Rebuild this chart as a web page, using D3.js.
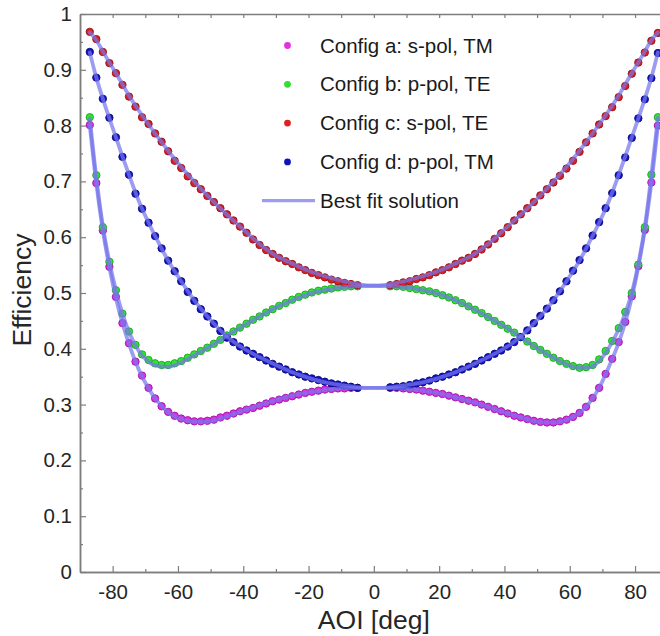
<!DOCTYPE html>
<html>
<head>
<meta charset="utf-8">
<script src="https://cdn.jsdelivr.net/npm/d3@7"></script>
<style>
  html, body { margin: 0; padding: 0; background: #fff; }
  svg { display: block; font-family: "Liberation Sans", Arial, sans-serif; }
</style>
</head>
<body>
<svg id="chart" width="660" height="636"></svg>
<script>
// Measured angles of incidence (deg); the beam block hides -3..3
const aoi = [
  -87,-85,-83,-81,-79,-77,-75,-73,-71,-69,-67,-65,-63,-61,-59,-57,-55,-53,-51,-49,-47,
  -45,-43,-41,-39,-37,-35,-33,-31,-29,-27,-25,-23,-21,-19,-17,-15,-13,-11,-9,-7,-5,
  5,7,9,11,13,15,17,19,21,23,25,27,29,31,33,35,37,39,41,43,45,
  47,49,51,53,55,57,59,61,63,65,67,69,71,73,75,77,79,81,83,85,87
];

// Config a: s-pol, TM
const configA = [
  .801,.697,.612,.547,.493,.446,.410,.377,.352,.330,.311,.297,.287,.280,.275,.272,.270,.270,.271,.273,.277,
  .280,.284,.288,.291,.294,.298,.302,.306,.309,.312,.315,.318,.321,.323,.325,.327,.328,.329,.329,.330,.330,
  .330,.330,.329,.328,.327,.325,.323,.321,.319,.316,.313,.310,.307,.304,.300,.296,.292,.288,.284,.280,.277,
  .274,.271,.269,.268,.268,.270,.273,.278,.285,.296,.312,.330,.355,.382,.412,.448,.494,.548,.613,.698,.800
];

// Config b: p-pol, TE
const configB = [
  .815,.711,.618,.556,.505,.463,.431,.407,.390,.380,.374,.371,.371,.374,.378,.384,.390,.396,.402,.409,.416,
  .424,.431,.438,.445,.452,.458,.465,.471,.477,.482,.488,.493,.497,.501,.504,.506,.508,.510,.511,.512,.512,
  .512,.512,.511,.509,.507,.505,.503,.500,.496,.492,.487,.482,.476,.470,.464,.457,.450,.443,.436,.429,.421,
  .413,.405,.398,.391,.384,.378,.373,.369,.366,.367,.371,.381,.396,.414,.437,.466,.500,.551,.618,.712,.815
];

// Config c: s-pol, TE
const configC = [
  .968,.955,.932,.912,.894,.873,.852,.834,.815,.803,.786,.771,.754,.737,.724,.709,.697,.686,.674,.663,.652,
  .641,.630,.619,.608,.596,.586,.577,.570,.563,.557,.552,.546,.541,.536,.532,.528,.524,.521,.518,.516,.514,
  .514,.516,.519,.521,.525,.528,.532,.537,.541,.546,.552,.558,.563,.570,.578,.587,.597,.607,.618,.630,.641,
  .652,.663,.675,.686,.698,.710,.723,.737,.753,.770,.786,.802,.817,.833,.851,.871,.893,.913,.931,.952,.966
];

// Config d: p-pol, TM
const configD = [
  .932,.886,.848,.814,.779,.744,.712,.678,.651,.626,.602,.580,.558,.539,.521,.502,.486,.471,.458,.445,.432,
  .420,.412,.404,.397,.391,.385,.379,.373,.368,.363,.358,.354,.350,.347,.344,.341,.338,.336,.334,.332,.330,
  .331,.332,.333,.335,.338,.340,.343,.347,.350,.354,.358,.363,.368,.373,.379,.385,.391,.397,.404,.412,.421,
  .433,.446,.459,.472,.487,.503,.521,.540,.559,.580,.603,.627,.652,.679,.711,.743,.778,.813,.847,.885,.930
];

// Best fit solution, sampled on its own angle grid
const fitAoi = [
  -87,-85,-83,-81,-79,-77,-75,-72,-69,-66,-63,-60,-56,-52,-48,-44,-40,-35,-30,-25,-20,-15,-10,-5,0,
  5,10,15,20,25,30,35,40,44,48,52,56,60,63,66,69,72,75,77,79,81,83,85,87
];
const fitA = [
  .800,.696,.612,.546,.491,.446,.409,.363,.329,.304,.286,.276,.270,.269,.273,.281,.289,.299,.308,.316,.322,.326,.329,.330,.330,
  .330,.328,.325,.320,.313,.305,.296,.286,.279,.272,.268,.268,.275,.285,.303,.330,.368,.411,.447,.492,.547,.613,.697,.800
];
const fitB = [
  .813,.707,.620,.556,.505,.463,.430,.396,.377,.369,.368,.373,.385,.398,.412,.427,.441,.458,.474,.487,.498,.505,.510,.512,.513,
  .512,.510,.505,.498,.487,.473,.457,.440,.425,.409,.394,.381,.370,.366,.367,.378,.402,.435,.464,.500,.552,.619,.711,.814
];
const fitC = [
  .967,.953,.933,.913,.894,.874,.854,.827,.802,.778,.755,.733,.706,.681,.657,.635,.614,.588,.567,.553,.540,.530,.522,.516,.513,
  .516,.522,.530,.540,.553,.567,.588,.614,.635,.657,.681,.706,.733,.755,.778,.802,.827,.854,.874,.894,.913,.933,.953,.967
];
const fitD = [
  .931,.886,.848,.813,.779,.745,.712,.665,.626,.591,.558,.530,.495,.465,.439,.417,.401,.385,.371,.358,.348,.340,.335,.331,.330,
  .331,.335,.340,.348,.358,.371,.385,.401,.417,.439,.465,.495,.530,.558,.591,.626,.665,.712,.745,.779,.813,.848,.886,.931
];

const legendLabels = [
  "Config a: s-pol, TM",
  "Config b: p-pol, TE",
  "Config c: s-pol, TE",
  "Config d: p-pol, TM"
];
const fitLabel = "Best fit solution";
const xTicks = [-80, -60, -40, -20, 0, 20, 40, 60, 80];
const xMinorTicks = [-70, -50, -30, -10, 10, 30, 50, 70];
const yTicks = [0, 0.1, 0.2, 0.3, 0.4, 0.5, 0.6, 0.7, 0.8, 0.9, 1];
const yMinorTicks = [0.05, 0.15, 0.25, 0.35, 0.45, 0.55, 0.65, 0.75, 0.85, 0.95];
const xTitle = "AOI [deg]";
const yTitle = "Efficiency";

(function draw() {
  const fill = ["#e22ee2", "#2ee62e", "#dc2020", "#1515c8"];
  const edge = ["#a010a8", "#18a818", "#981010", "#08087a"];
  const fitColor = "rgb(118,118,236)";

  const svg = d3.select("#chart");
  const pl = 80, pr = 667.7, pt = 14, pb = 572;
  const x = d3.scaleLinear().domain([-90, 90]).range([pl, pr]);
  const y = d3.scaleLinear().domain([0, 1]).range([pb, pt]);

  svg.append("defs").append("clipPath").attr("id", "plotArea")
    .append("rect").attr("x", pl).attr("y", pt)
    .attr("width", pr - pl).attr("height", pb - pt);

  const plot = svg.append("g").attr("clip-path", "url(#plotArea)");

  // measured points
  [configA, configB, configC, configD].forEach((vals, i) => {
    plot.append("g").selectAll("circle")
      .data(aoi.map((a, j) => ({ a, v: vals[j] })))
      .join("circle")
      .attr("cx", d => x(d.a))
      .attr("cy", d => y(d.v))
      .attr("r", 3.7)
      .attr("fill", fill[i])
      .attr("stroke", edge[i])
      .attr("stroke-width", 0.9);
  });

  // fitted curves drawn over the points
  const line = d3.line()
    .x(d => x(d.a))
    .y(d => y(d.v))
    .curve(d3.curveMonotoneX);
  [fitA, fitB, fitC, fitD].forEach(vals => {
    plot.append("path")
      .datum(fitAoi.map((a, j) => ({ a, v: vals[j] })))
      .attr("d", line)
      .attr("fill", "none")
      .attr("stroke", fitColor)
      .attr("stroke-opacity", 0.72)
      .attr("stroke-width", 3.8)
      .attr("stroke-linejoin", "round")
      .attr("stroke-linecap", "round");
  });

  // axes
  const axisColor = "#7d7d7d";
  const labelColor = "#262626";
  function styleAxis(g) {
    g.select(".domain").attr("stroke", axisColor).attr("stroke-width", 1.5);
    g.selectAll(".tick line").attr("stroke", axisColor).attr("stroke-width", 1.2);
    g.selectAll(".tick text").attr("fill", labelColor)
      .style("font-family", '"Liberation Sans", Arial, sans-serif')
      .style("font-size", "20.5px");
  }

  svg.append("g").attr("transform", `translate(0,${pb})`)
    .call(d3.axisBottom(x).tickValues(xTicks).tickSize(-6).tickSizeOuter(0).tickPadding(12.5)
      .tickFormat(d => String(d)))
    .call(styleAxis);
  svg.append("g").attr("transform", `translate(0,${pb})`)
    .call(d3.axisBottom(x).tickValues(xMinorTicks).tickSize(-3).tickSizeOuter(0).tickFormat(""))
    .call(styleAxis);
  svg.append("g").attr("transform", `translate(0,${pt})`)
    .call(d3.axisTop(x).tickValues(xTicks.concat(xMinorTicks)).tickSize(-4).tickSizeOuter(0).tickFormat(""))
    .call(styleAxis);
  svg.append("g").attr("transform", `translate(${pl},0)`)
    .call(d3.axisLeft(y).tickValues(yTicks).tickSize(-6).tickSizeOuter(0).tickPadding(8)
      .tickFormat(d => (d === 0 || d === 1) ? String(d) : d.toFixed(1)))
    .call(styleAxis);
  svg.append("g").attr("transform", `translate(${pl},0)`)
    .call(d3.axisLeft(y).tickValues(yMinorTicks).tickSize(-3).tickSizeOuter(0).tickFormat(""))
    .call(styleAxis);

  // axis titles
  svg.append("text")
    .attr("x", (pl + pr) / 2).attr("y", 629)
    .attr("text-anchor", "middle")
    .attr("fill", labelColor)
    .style("font-size", "26.5px")
    .text(xTitle);
  svg.append("text")
    .attr("transform", `translate(31,${(pt + pb) / 2 - 3}) rotate(-90)`)
    .attr("text-anchor", "middle")
    .attr("fill", labelColor)
    .style("font-size", "26.5px")
    .text(yTitle);

  // legend
  const legend = svg.append("g");
  const rowY = [45.5, 84.3, 123.1, 161.9, 200.7];
  const legendFill = ["#e033e0", "#33dd33", "#dd2222", "#1111bb"];
  legendLabels.forEach((t, i) => {
    legend.append("circle").attr("cx", 287.5).attr("cy", rowY[i]).attr("r", 3.4).attr("fill", legendFill[i]);
    legend.append("text").attr("x", 320).attr("y", rowY[i]).attr("dy", "0.35em")
      .attr("fill", "#1a1a1a").style("font-size", "20.5px").text(t);
  });
  legend.append("line").attr("x1", 262).attr("x2", 315).attr("y1", rowY[4]).attr("y2", rowY[4])
    .attr("stroke", fitColor).attr("stroke-opacity", 0.72).attr("stroke-width", 3.2);
  legend.append("text").attr("x", 320).attr("y", rowY[4]).attr("dy", "0.35em")
    .attr("fill", "#1a1a1a").style("font-size", "20.5px").text(fitLabel);
})();
</script>
</body>
</html>
